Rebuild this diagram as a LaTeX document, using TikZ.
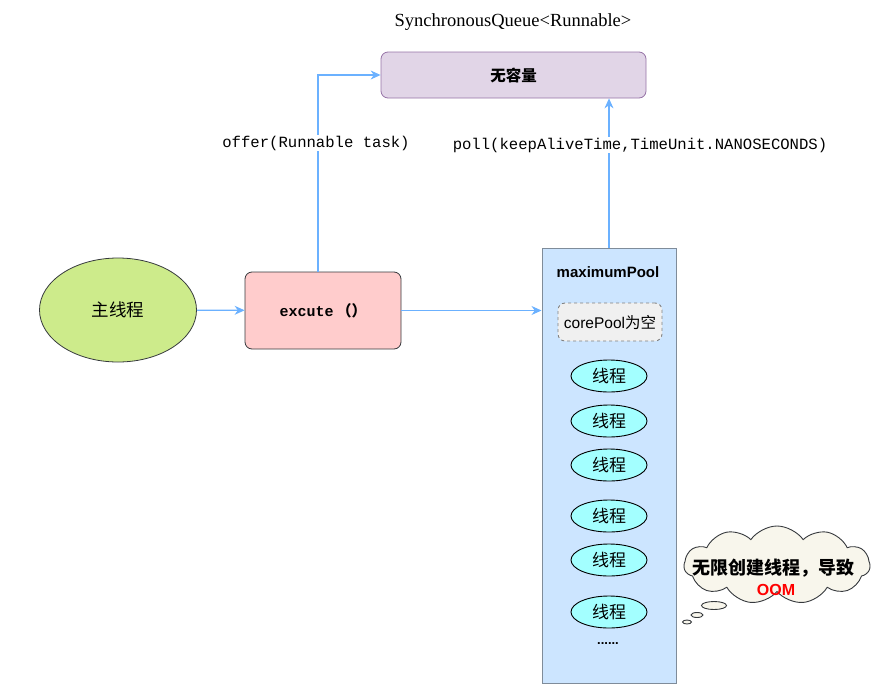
\documentclass[tikz,border=0pt]{standalone}
\usepackage{fontspec}
\setmainfont{Liberation Serif}
\setsansfont{Liberation Sans}
\setmonofont{Liberation Mono}
\newfontfamily\cjk{Noto Sans CJK SC}
\usetikzlibrary{arrows.meta,shapes.geometric,shapes.symbols}
\definecolor{arrc}{HTML}{6BB1FF}
\definecolor{dk}{HTML}{36393D}
\definecolor{greenf}{HTML}{CDEB8B}
\definecolor{pinkf}{HTML}{FFCCCC}
\definecolor{purf}{HTML}{E1D5E7}
\definecolor{purd}{HTML}{9673A6}
\definecolor{bluef}{HTML}{CCE5FF}
\definecolor{blued}{HTML}{7F8C9A}
\definecolor{cyanf}{HTML}{A3FFFF}
\definecolor{greyf}{HTML}{F0F0F0}
\definecolor{cloudf}{HTML}{F8F6EC}
\tikzset{
  arr/.style={draw=arrc,line width=1.1pt,-{Stealth[length=10pt,width=9pt]}},
  lbl/.style={fill=white,inner sep=1pt,font=\fontsize{15.6}{18}\ttfamily},
  thr/.style={ellipse,draw=black,fill=cyanf,line width=0.9pt,minimum width=76pt,minimum height=32pt,inner sep=0pt,font=\fontsize{17}{20}\cjk},
  rbox/.style={rectangle,rounded corners=7pt,line width=0.8pt,inner sep=0pt},
}
\begin{document}
\begin{tikzpicture}[x=1pt,y=-1pt]
\useasboundingbox (0,0) rectangle (896,699);
% queue
\node[font=\fontsize{18.5}{22}\selectfont] (sqlabel) at (513,22) {SynchronousQueue<Runnable>};
\node[rbox,draw=purd,fill=purf,minimum width=265pt,minimum height=46pt,font=\fontsize{15.5}{18}\cjk\bfseries] (queue) at (513.5,75) {无容量};
% main thread
\node[ellipse,draw=dk,fill=greenf,line width=0.8pt,minimum width=157pt,minimum height=104pt,inner sep=0pt,font=\fontsize{17.5}{20}\cjk] (main) at (118,310) {主线程};
% excute
\node[rbox,draw=dk,fill=pinkf,minimum width=156pt,minimum height=77pt] (exec) at (323,310.5) {\fontsize{15}{18}\ttfamily\bfseries excute\hspace{3pt}\cjk（）};
% pool
\node[rectangle,draw=blued,fill=bluef,line width=1pt,minimum width=134pt,minimum height=435pt,inner sep=0pt] (pool) at (609,465.5) {};
\node[font=\fontsize{15}{18}\sffamily\bfseries] (pooltitle) at (608,272) {maximumPool};
\node[rbox,draw=gray,dashed,fill=greyf,line width=0.9pt,minimum width=104pt,minimum height=38pt,font=\fontsize{15.5}{18}\sffamily] (core) at (610,322) {corePool\cjk 为空};
\node[thr] (t1) at (609,376) {线程};
\node[thr] (t2) at (609,421) {线程};
\node[thr] (t3) at (609,465) {线程};
\node[thr] (t4) at (609,516) {线程};
\node[thr] (t5) at (609,560) {线程};
\node[thr] (t6) at (609,612) {线程};
\node[font=\fontsize{13}{14}\sffamily\bfseries] (dots) at (608,644) {......};
% arrows
\draw[arr] (main) -- (exec);
\draw[arr] (exec.east) -- (exec.east -| pool.west);
\coordinate (offstart) at (318,272);
\draw[arr] (offstart) |- (queue.west);
\draw[arr] (pool.north) -- (pool.north |- queue.south);
\node[lbl] (offerlbl) at (316,143) {offer(Runnable task)};
\node[lbl] (polllbl) at (640,145) {poll(keepAliveTime,TimeUnit.NANOSECONDS)};
% cloud
\node[cloud,cloud puffs=11,cloud puff arc=110,aspect=2.5,draw=dk,fill=cloudf,line width=0.9pt,minimum width=186pt,minimum height=78pt,inner sep=0pt] (cloud) at (777,565) {};
\node[font=\fontsize{18}{20}\cjk\bfseries] (cloudtxt) at (773,568) {无限创建线程，导致};
\node[font=\fontsize{16}{18}\sffamily\bfseries,text=red] (oom) at (776,590) {OOM};
\node[ellipse,draw=dk,fill=cloudf,line width=0.9pt,minimum width=25pt,minimum height=8pt,inner sep=0pt] (b1) at (714,605.5) {};
\node[ellipse,draw=dk,fill=cloudf,line width=0.9pt,minimum width=12pt,minimum height=5pt,inner sep=0pt] (b2) at (697,615) {};
\node[ellipse,draw=dk,fill=cloudf,line width=0.9pt,minimum width=9pt,minimum height=4pt,inner sep=0pt] (b3) at (687,622) {};
\end{tikzpicture}
\end{document}
